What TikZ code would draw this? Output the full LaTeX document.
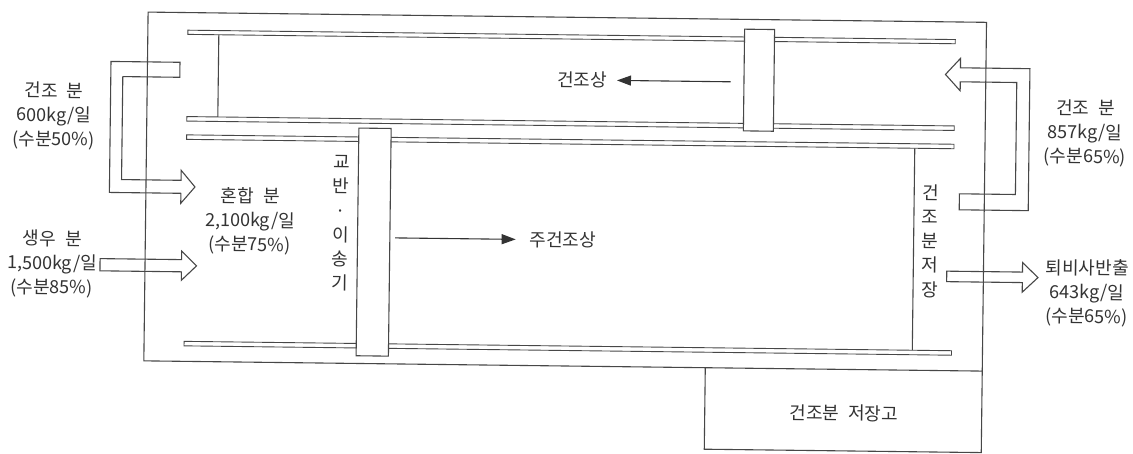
\documentclass[tikz,border=0pt]{standalone}
\usepackage{fontspec}
\setmainfont{Noto Sans CJK KR}
\usetikzlibrary{arrows.meta}
\newcommand\kgap{\hspace{0.5em}}
\begin{document}
\begin{tikzpicture}[x=1pt,y=-1pt,
  ln/.style={draw=black!72, line width=1.1pt},
  rail/.style={draw=black!72, line width=0.9pt},
  blk/.style={draw=black!72, line width=1.1pt, fill=white},
  flow/.style={draw=black!72, line width=1.1pt, line join=miter},
  lbl/.style={inner sep=0pt, align=center, text=black!80, font=\fontsize{18}{24.2}\selectfont},
  ptr/.style={-{Triangle[length=14pt,width=10pt]}, draw=black!80, line width=1.1pt}]
\useasboundingbox (0,0) rectangle (1133,453);
\fill[white] (0,0) rectangle (1133,453);
\begin{scope}[rotate around={-0.7:(566,226)}, transform shape]
% outer frame
\draw[ln] (145.5,17.2) rectangle (984,366);
% storage box below the frame
\draw[ln] (707,366) -- (707,447.5) -- (984,447.5) -- (984,366);
% rails
\draw[rail] (185.5,34.8) rectangle (953,39);
\draw[rail] (185.5,121.2) rectangle (953,125.7);
\draw[rail] (185.5,139.5) rectangle (953,144);
\draw[rail] (185.5,346) rectangle (953,350.5);
% end walls of the beds
\draw[ln] (216.5,39) -- (216.5,121.2);
\draw[ln] (913.8,144) -- (913.8,346);
% carriages
\draw[blk] (742.2,27) rectangle (772.2,128.7);
\draw[blk] (357.7,130.6) rectangle (390,358.3);
% block arrows
\draw[flow] (178,67) -- (109,67) -- (109,198) -- (180.5,198) -- (180.5,208) -- (194.5,191.5)
  -- (180.5,175) -- (180.5,185) -- (121,185) -- (121,82) -- (178,82) -- cycle;
\draw[flow] (100.5,264.3) -- (182,264.3) -- (182,255.8) -- (197,270.4) -- (182,285)
  -- (182,276.5) -- (100.5,276.5) -- cycle;
\draw[flow] (959,189) -- (1015,189) -- (1015,77) -- (958.5,77) -- (958.5,86) -- (943.6,69.8)
  -- (958.5,53.5) -- (958.5,63) -- (1028,63) -- (1028,205) -- (959,205) -- cycle;
\draw[flow] (947.3,266.5) -- (1023,266.5) -- (1023,257) -- (1038.6,271.8) -- (1023,286.6)
  -- (1023,277) -- (947.3,277) -- cycle;
% labels
\node[lbl] (dryin) at (52.5,122) {건조\kgap 분\\600kg/일\\(수분50\%)};
\node[lbl] (raw) at (52.5,270) {생우\kgap 분\\1,500kg/일\\(수분85\%)};
\node[lbl] (mix) at (250,224.8) {혼합\kgap 분\\2,100kg/일\\(수분75\%)};
\node[lbl] (dryret) at (1084,126.8) {건조\kgap 분\\857kg/일\\(수분65\%)};
\node[lbl] (out) at (1087.8,286.7) {퇴비사반출\\643kg/일\\(수분65\%)};
\node[lbl] (dry) at (580.2,79.8) {건조상};
\node[lbl] (main) at (563.2,240) {주건조상};
\node[lbl] (mixer) at (340.7,226.2) {교\\반\\·\\이\\송\\기};
\node[lbl] (storev) at (930.2,236.6) {건\\조\\분\\저\\장};
\node[lbl] (store) at (846.2,409.7) {건조분\kgap 저장고};
% direction arrows
\coordinate (dtail) at (729,79.8);
\draw[ptr] (dtail) -- ([xshift=10pt]dry.east);
\coordinate (mtail) at (395.2,240);
\draw[ptr] (mtail) -- ([xshift=-14pt]main.west);
\end{scope}
\end{tikzpicture}
\end{document}
